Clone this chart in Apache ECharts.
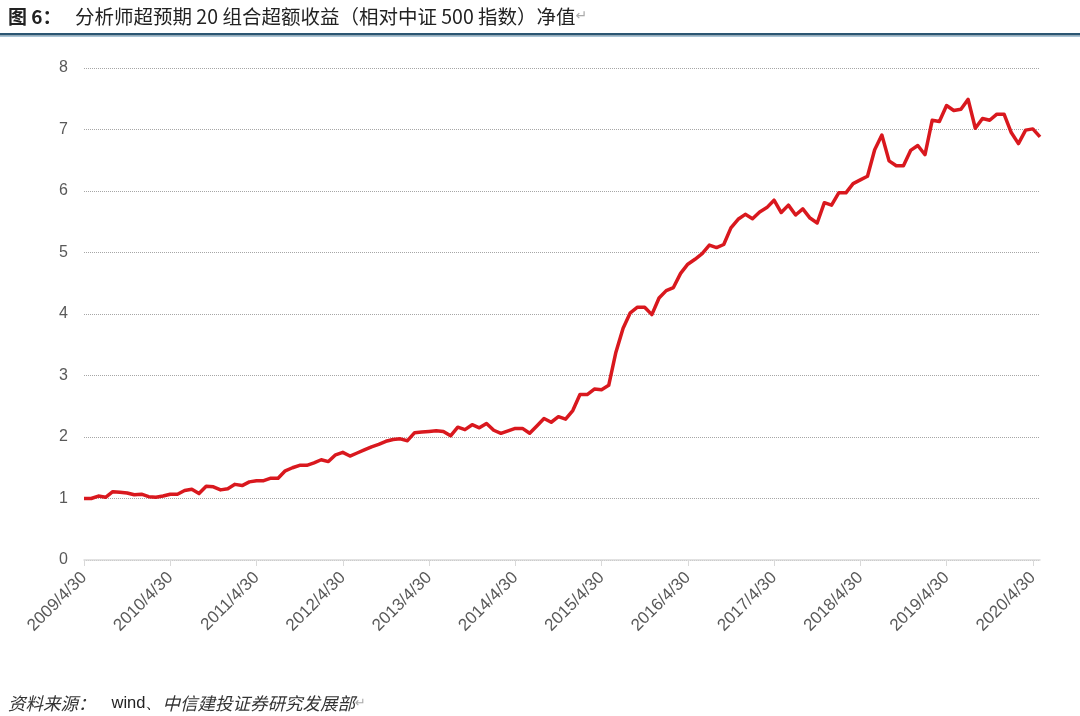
<!DOCTYPE html>
<html><head><meta charset="utf-8">
<script src="https://cdn.jsdelivr.net/npm/echarts@6/dist/echarts.min.js"></script>
<style>html,body{margin:0;padding:0;background:#fff}#c{width:1080px;height:716px}</style>
</head><body><div id="c"></div>
<script>
// Month-end categories from 2009/4 to 2020/5
const startYear = 2009, startMonth = 4, nPoints = 134;
const categories = [];
for (let k = 0; k < nPoints; k++) {
  const m0 = startMonth - 1 + k;
  const y = startYear + Math.floor(m0 / 12), m = (m0 % 12) + 1;
  const d = new Date(y, m, 0).getDate();
  categories.push(y + '/' + m + '/' + d);
}
const netValue = [
  1.00,1.00,1.04,1.02,1.11,1.10,1.09,1.06,1.07,1.03,1.02,1.04,
  1.07,1.07,1.13,1.15,1.08,1.20,1.19,1.14,1.16,1.23,1.21,1.27,
  1.29,1.29,1.33,1.33,1.45,1.50,1.54,1.54,1.58,1.63,1.60,1.71,
  1.75,1.69,1.74,1.79,1.84,1.88,1.93,1.96,1.97,1.94,2.07,2.08,
  2.09,2.10,2.09,2.02,2.16,2.12,2.20,2.15,2.22,2.11,2.06,2.10,
  2.14,2.14,2.06,2.18,2.30,2.24,2.33,2.29,2.43,2.69,2.69,2.78,
  2.77,2.84,3.38,3.77,4.02,4.11,4.11,3.99,4.26,4.38,4.43,4.66,
  4.81,4.89,4.98,5.12,5.08,5.13,5.40,5.54,5.62,5.55,5.66,5.73,
  5.85,5.65,5.77,5.61,5.71,5.56,5.48,5.81,5.77,5.97,5.97,6.12,
  6.18,6.24,6.67,6.91,6.49,6.41,6.41,6.66,6.74,6.59,7.15,7.13,
  7.39,7.31,7.33,7.49,7.02,7.18,7.15,7.25,7.25,6.95,6.77,6.99,
  7.01,6.88
];
const yTicks = [0,1,2,3,4,5,6,7,8];
const titleLabel = '图 6：';
const titleText = '分析师超预期 20 组合超额收益（相对中证 500 指数）净值';
const sourceLabel = '资料来源：';
const sourceText = '中信建投证券研究发展部';

const chart = echarts.init(document.getElementById('c'));
chart.setOption({
  backgroundColor: '#fff',
  animation: false,
  grid: {left: 84, right: 40, top: 68, bottom: 156},
  xAxis: {
    type: 'category', data: categories, boundaryGap: false,
    axisLine: {lineStyle: {color: '#d9d9d9', width: 1.5}},
    axisTick: {show: true, interval: 11, length: 6, lineStyle: {color: '#d9d9d9'}},
    axisLabel: {
      interval: 11, rotate: 45, margin: 15,
      color: '#595959', fontSize: 17, fontFamily: 'Liberation Sans, Arial, sans-serif'
    },
    splitLine: {show: false}
  },
  yAxis: {
    type: 'value', min: yTicks[0], max: yTicks[yTicks.length-1], interval: 1,
    axisLine: {show: false}, axisTick: {show: false},
    axisLabel: {color: '#595959', fontSize: 16, margin: 16, fontFamily: 'Liberation Sans, Arial, sans-serif'},
    splitLine: {lineStyle: {color: '#a6a6a6', type: [1, 1], width: 1}}
  },
  series: [{
    type: 'line', data: netValue, symbol: 'none', smooth: false,
    lineStyle: {color: '#d9181e', width: 3.5, join: 'round'}
  }],
  graphic: [
    {type: 'text', left: 8, top: 7, style: {
      text: '{a|' + titleLabel + '}{b|' + titleText + '}{c|↵}',
      rich: {
        a: {fontSize: 19, fontWeight: 'bold', fill: '#222', fontFamily: 'Noto Sans CJK SC', width: 67},
        b: {fontSize: 19.5, fill: '#222', fontFamily: 'Noto Sans CJK SC'},
        c: {fontSize: 14, fill: '#aaa', fontFamily: 'DejaVu Sans'}
      }}},
    {type: 'rect', shape: {x: 0, y: 33, width: 1080, height: 2.5}, style: {fill: '#2b5673'}},
    {type: 'rect', shape: {x: 0, y: 36, width: 1080, height: 1}, style: {fill: '#a9c4d6'}},
    {type: 'text', left: 8, top: 695, style: {
      text: '{a|' + sourceLabel + '}{w|wind、}{a|' + sourceText + '}{c|↵}',
      rich: {
        a: {fontSize: 17.5, fontStyle: 'italic', fill: '#333', fontFamily: 'Noto Sans CJK SC'},
        w: {fontSize: 16.5, fill: '#222', fontFamily: 'Liberation Sans', padding: [0,0,0,16]},
        c: {fontSize: 13, fill: '#aaa', fontFamily: 'DejaVu Sans'}
      }}}
  ]
});
</script>
</body></html>
